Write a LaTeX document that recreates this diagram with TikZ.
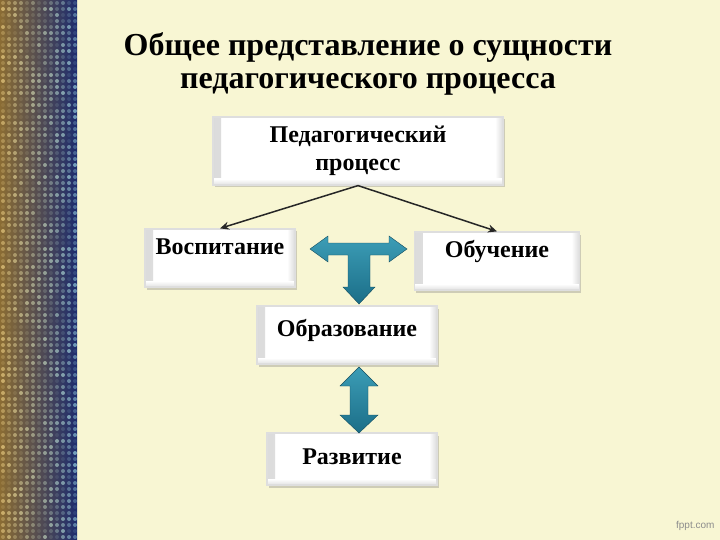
\documentclass[tikz,border=0pt]{standalone}
\usepackage{fontspec}
\setmainfont{Liberation Serif}
\newfontfamily\markfont{Liberation Sans}
\usetikzlibrary{positioning, arrows.meta, shadows}

\definecolor{slidebg}{HTML}{F8F6D3}
\definecolor{stripegold}{HTML}{8A6C34}
\definecolor{stripeteal}{HTML}{2E6A72}
\definecolor{stripenavy}{HTML}{1D2C6E}
\definecolor{dotgold}{HTML}{F2D58A}
\definecolor{dotcyan}{HTML}{9FDCEB}
\definecolor{tealtop}{HTML}{3C9DB6}
\definecolor{tealbot}{HTML}{1B6E88}

\begin{document}
\begin{tikzpicture}[
    x=1pt, y=1pt,
    font=\bfseries,
    block/.style={rectangle, draw=black!13, line width=1.2pt, fill=white, align=center,
        font=\fontsize{24}{28}\selectfont\bfseries,
        drop shadow={shadow xshift=1.5pt, shadow yshift=-2.5pt, opacity=0.35},
        path picture={
            \shade[left color=black!14, right color=white] (path picture bounding box.south west) rectangle ([xshift=8pt]path picture bounding box.north west);
            \shade[left color=white, right color=black!14] ([xshift=-8pt]path picture bounding box.south east) rectangle (path picture bounding box.north east);
            \shade[top color=white, bottom color=black!12] ([yshift=6pt]path picture bounding box.south west) rectangle (path picture bounding box.south east);
        }},
    lift/.style={text depth=#1},
    link/.style={-{Stealth[length=9pt, width=8pt]}, line width=1.5pt, draw=black!85},
    bigarrow/.style={top color=tealtop, bottom color=tealbot, draw=tealbot!70!black, line width=0.4pt}
]

% slide background
\fill[slidebg] (0,0) rectangle (720,-540);
\useasboundingbox (0,0) rectangle (720,-540);
\shade[left color=stripegold, middle color=stripeteal, right color=stripenavy] (0,0) rectangle (77,-540);
\foreach \i in {0,...,12}
  \foreach \j in {0,...,89} {
    \pgfmathsetmacro\dotop{0.1+0.55*rnd}
    \pgfmathsetmacro\dotmix{100-\i*8}
    \fill[dotgold!\dotmix!dotcyan, opacity=\dotop] (3+6*\i, -3-6*\j) circle (2);
  }

% title
\node[font=\fontsize{32}{33}\selectfont\bfseries, align=center] (title) at (368,-64)
    {Общее представление о сущности\\педагогического процесса};

% blocks
\node[block, minimum width=290, minimum height=68] (pedproc) at (358,-151) {Педагогический\\процесс};
\node[block, lift=22pt, minimum width=150, minimum height=58] (vospit) at (220,-258) {Воспитание};
\node[block, lift=24pt, minimum width=165, minimum height=58] (obuch) at (497,-261) {Обучение};
\node[block, lift=14pt, minimum width=180, minimum height=58] (obraz) at (347,-335) {Образование};
\node[block, lift=4pt, minimum width=170, minimum height=52] (razvit) at (352,-459) {Развитие};

\draw[link] (pedproc.south) -- (vospit.north);
\draw[link] (pedproc.south) -- (obuch.north);

% teal block arrows
\path[bigarrow] (310,-249) -- (328,-236) -- (328,-243) -- (389,-243) -- (389,-236) -- (407,-249)
    -- (389,-262) -- (389,-255) -- (370,-255) -- (370,-287) -- (375,-287) -- (359,-304)
    -- (343,-287) -- (348,-287) -- (348,-255) -- (328,-255) -- (328,-262) -- cycle;
\path[bigarrow] (359,-367) -- (378,-386) -- (368,-386) -- (368,-415) -- (378,-415) -- (359,-433)
    -- (340,-415) -- (350,-415) -- (350,-386) -- (340,-386) -- cycle;

\node[font=\markfont\fontsize{10}{12}\selectfont, text=black!45, anchor=east] (mark) at (718,-526) {fppt.com};

\end{tikzpicture}
\end{document}
